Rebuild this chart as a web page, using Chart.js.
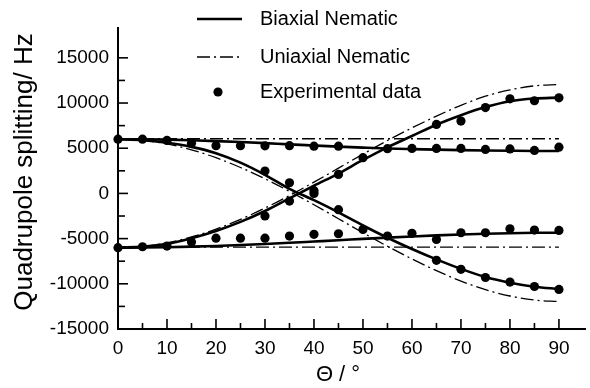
<!DOCTYPE html>
<html>
<head>
<meta charset="utf-8">
<script src="https://cdn.jsdelivr.net/npm/chart.js@4.4.0/dist/chart.umd.min.js"></script>
<style>
  html, body { margin: 0; padding: 0; background: #fff; }
  #wrap { width: 590px; height: 388px; }
</style>
</head>
<body>
<div id="wrap"><canvas id="quadChart" width="590" height="388"></canvas></div>
<script>
// angle theta in degrees
const theta = [0, 5, 10, 15, 20, 25, 30, 35, 40, 45, 50, 55, 60, 65, 70, 75, 80, 85, 90];

// biaxial nematic fit (solid lines)
const biaxUpper = [6000, 5990, 5950, 5880, 5790, 5680, 5560, 5420, 5300, 5180, 5070, 4970, 4900, 4840, 4790, 4750, 4720, 4700, 4700];
const biaxLower = [-6000, -5990, -5950, -5890, -5810, -5710, -5590, -5460, -5320, -5180, -5030, -4890, -4760, -4640, -4540, -4460, -4400, -4360, -4350];
const biaxFall = [6000, 5890, 5600, 5150, 4450, 3400, 2050, 500, -750, -2100, -3550, -4900, -6150, -7300, -8350, -9250, -9880, -10320, -10580];
const biaxRise = [-6000, -5890, -5580, -4950, -4150, -3150, -1950, -550, 850, 2200, 3700, 5100, 6350, 7600, 8650, 9550, 10200, 10500, 10600];

// uniaxial nematic (dash-dot lines)
const uniFlatTheta = [0, 90];
const uniUpper = [6050, 6050];
const uniLower = [-5950, -5950];
const uniFall = [6000, 5860, 5470, 4820, 3950, 2870, 1620, 230, -1250, -2800, -4350, -5850, -7250, -8550, -9700, -10650, -11350, -11800, -11950];
const uniRise = [-6000, -5860, -5470, -4820, -3950, -2870, -1620, -230, 1250, 2800, 4350, 5850, 7250, 8550, 9750, 10750, 11450, 11900, 12050];

// experimental data (null = no point)
const expUpper = [6000, 6000, 5860, 5550, 5280, 5280, 5260, 5280, 5230, 5230, null, 4950, 4980, 4980, 4980, 4870, 4920, 4760, 5120];
const expLower = [-6000, -5900, -5830, -5380, -4950, -4950, -4950, -4720, -4530, -4460, null, -4720, -4420, -5090, -4350, -4350, -3910, -4060, -4090];
const expFall = [null, null, null, null, null, null, 2470, 1180, 300, -1800, -3980, null, null, -7400, -8400, -9300, -9810, -10300, -10620];
const expRise = [null, null, null, null, null, null, -2500, -850, 0, 2100, 3950, null, null, 7630, 8000, 9500, 10470, 10250, 10580];

const xTickVals = [0, 5, 10, 15, 20, 25, 30, 35, 40, 45, 50, 55, 60, 65, 70, 75, 80, 85, 90];
const yTickVals = [-15000, -12500, -10000, -7500, -5000, -2500, 0, 2500, 5000, 7500, 10000, 12500, 15000];

const FONT = "'Liberation Sans', Arial, sans-serif";
const dashDot = [13, 4, 2, 4];

function pts(xs, values) {
    return xs.map((t, i) => ({ x: t, y: values[i] })).filter(p => p.y !== null);
}

function curve(xs, values, dashed) {
    return {
        data: pts(xs, values),
        showLine: true,
        borderColor: '#000',
        borderWidth: dashed ? 1.3 : 2.6,
        borderDash: dashed ? dashDot : [],
        pointRadius: 0,
        cubicInterpolationMode: 'monotone',
        fill: false
    };
}

function dots(values) {
    return {
        data: pts(theta, values),
        showLine: false,
        pointRadius: 4.6,
        pointHoverRadius: 4.6,
        pointBackgroundColor: '#000',
        pointBorderWidth: 0,
        clip: false
    };
}

// inward tick marks, axis titles and the legend block
const decorations = {
    id: 'decorations',
    afterDraw(chart) {
        const { ctx, scales: { x, y } } = chart;
        ctx.save();
        ctx.strokeStyle = '#000';
        ctx.lineWidth = 1.6;
        xTickVals.forEach(v => {
            const px = x.getPixelForValue(v);
            const len = v % 10 === 0 ? 10 : 6;
            ctx.beginPath();
            ctx.moveTo(px, y.bottom);
            ctx.lineTo(px, y.bottom - len);
            ctx.stroke();
        });
        yTickVals.forEach(v => {
            const py = y.getPixelForValue(v);
            const len = v % 5000 === 0 ? 10 : 7;
            ctx.beginPath();
            ctx.moveTo(x.left, py);
            ctx.lineTo(x.left + len, py);
            ctx.stroke();
        });

        ctx.fillStyle = '#000';
        // x title
        ctx.font = '22px ' + FONT;
        ctx.textAlign = 'center';
        ctx.textBaseline = 'middle';
        ctx.fillText('Θ / °', 338, 375);
        // y title
        ctx.save();
        ctx.translate(25, 172);
        ctx.rotate(-Math.PI / 2);
        ctx.font = '26px ' + FONT;
        ctx.fillText('Quadrupole splitting/ Hz', 0, 0);
        ctx.restore();

        // legend
        ctx.font = '20px ' + FONT;
        ctx.textAlign = 'left';
        ctx.lineWidth = 2.6;
        ctx.beginPath();
        ctx.moveTo(197, 19);
        ctx.lineTo(242, 19);
        ctx.stroke();
        ctx.fillText('Biaxial Nematic', 260, 19);

        ctx.lineWidth = 1.3;
        ctx.setLineDash(dashDot);
        ctx.beginPath();
        ctx.moveTo(197, 57);
        ctx.lineTo(242, 57);
        ctx.stroke();
        ctx.setLineDash([]);
        ctx.fillText('Uniaxial Nematic', 260, 57);

        ctx.beginPath();
        ctx.arc(218, 92, 4.6, 0, Math.PI * 2);
        ctx.fill();
        ctx.fillText('Experimental data', 260, 92);
        ctx.restore();
    }
};

new Chart(document.getElementById('quadChart').getContext('2d'), {
    type: 'scatter',
    data: {
        datasets: [
            curve(uniFlatTheta, uniUpper, true),
            curve(uniFlatTheta, uniLower, true),
            curve(theta, uniFall, true),
            curve(theta, uniRise, true),
            curve(theta, biaxUpper, false),
            curve(theta, biaxLower, false),
            curve(theta, biaxFall, false),
            curve(theta, biaxRise, false),
            dots(expUpper),
            dots(expLower),
            dots(expFall),
            dots(expRise)
        ]
    },
    options: {
        responsive: false,
        animation: false,
        layout: { padding: { top: 28, right: 0, left: 0, bottom: 0 } },
        plugins: {
            legend: { display: false },
            tooltip: { enabled: false }
        },
        scales: {
            x: {
                type: 'linear',
                min: 0,
                max: 95.4,
                afterBuildTicks: s => { s.ticks = xTickVals.map(v => ({ value: v })); },
                afterFit: s => { s.height = 59; },
                ticks: {
                    autoSkip: false,
                    maxRotation: 0,
                    padding: 8,
                    color: '#000',
                    font: { family: FONT, size: 19 },
                    callback: v => (v % 10 === 0 ? String(v) : '')
                },
                grid: { display: false, drawTicks: false },
                border: { display: true, color: '#000', width: 2 }
            },
            y: {
                min: -15000,
                max: 18300,
                afterBuildTicks: s => { s.ticks = yTickVals.map(v => ({ value: v })); },
                afterFit: s => { s.width = 118; },
                ticks: {
                    autoSkip: false,
                    padding: 9,
                    color: '#000',
                    font: { family: FONT, size: 19 },
                    callback: v => (v % 5000 === 0 ? String(v) : '')
                },
                grid: { display: false, drawTicks: false },
                border: { display: true, color: '#000', width: 2 }
            }
        }
    },
    plugins: [decorations]
});
</script>
</body>
</html>
